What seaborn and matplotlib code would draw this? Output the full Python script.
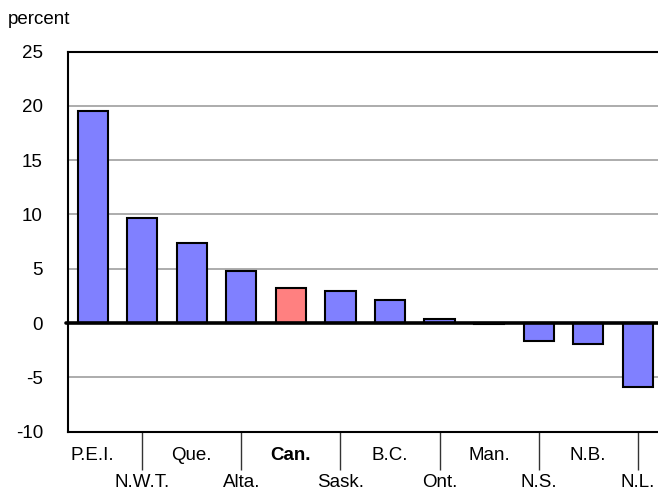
import pandas as pd
import matplotlib
matplotlib.use('Agg')
import matplotlib.pyplot as plt
import seaborn as sb
from matplotlib import font_manager

# values (percent change)
provinces = ['P.E.I.', 'N.W.T.', 'Que.', 'Alta.', 'Can.', 'Sask.',
             'B.C.', 'Ont.', 'Man.', 'N.S.', 'N.B.', 'N.L.']
change = [19.5, 9.7, 7.4, 4.75, 3.2, 2.95, 2.15, 0.35, -0.1, -1.65, -1.9, -5.9]
highlight = 'Can.'
yticks = [-10, -5, 0, 5, 10, 15, 20, 25]
gridlines = [-5, 5, 10, 15, 20]

df = pd.DataFrame({'province': provinces, 'change': change})

sb.set_style('white')
names = {f.name for f in font_manager.fontManager.ttflist}
if 'Liberation Sans Narrow' in names:
    plt.rcParams['font.family'] = ['Liberation Sans Narrow', 'DejaVu Sans']
else:
    plt.rcParams['font.family'] = ['Liberation Sans', 'DejaVu Sans']
plt.rcParams['axes.unicode_minus'] = False
plt.rcParams['text.color'] = 'black'
plt.rcParams['xtick.labelcolor'] = 'black'
plt.rcParams['ytick.labelcolor'] = 'black'
fs = 13.5

fig = plt.figure(figsize=(6.58, 4.94), dpi=100)
ax = fig.add_axes([0.1033, 0.1261, 0.9035, 0.7696])

colors = ['#ff8080' if p == highlight else '#8080ff' for p in provinces]
sb.barplot(data=df, x='province', y='change', hue='province', palette=colors,
           legend=False, width=0.61, edgecolor='black', linewidth=1.5,
           saturation=1, ax=ax, zorder=3)

ax.set_xlim(-0.5, len(provinces) - 0.5)
ax.set_ylim(-10, 25)

for g in gridlines:
    ax.axhline(g, color='#a6a6a6', lw=1.3, zorder=1)
ax.axhline(0, xmin=-0.004, color='black', lw=2.6, zorder=4, clip_on=False)

for side in ['left', 'top', 'bottom']:
    ax.spines[side].set_color('black')
    ax.spines[side].set_linewidth(1.5)
ax.spines['right'].set_visible(False)

# staggered labels: even ones on top row, odd ones on the lower row with separator lines
even = list(range(0, len(provinces), 2))
odd = list(range(1, len(provinces), 2))
ax.set_xticks(even, labels=[provinces[i] for i in even])
ax.set_xticks(odd, labels=[provinces[i] for i in odd], minor=True)
ax.tick_params(axis='x', which='major', length=0, pad=11, labelsize=fs,
               labelcolor='black')
ax.tick_params(axis='x', which='minor', length=27, width=1, color='#333333',
               direction='out', pad=3.6, labelsize=fs, bottom=True,
               labelcolor='black')
for lbl in ax.get_xticklabels():
    if lbl.get_text() == highlight:
        lbl.set_fontweight('bold')

ax.set_yticks(yticks)
ax.tick_params(axis='y', length=0, pad=18, labelsize=fs, labelcolor='black')
ax.set_xlabel('')
ax.set_ylabel('')

fig.text(8 / 658, 1 - 20 / 494, 'percent', fontsize=fs, ha='left', va='center',
         color='black')

fig.savefig('out.png', dpi=100)
